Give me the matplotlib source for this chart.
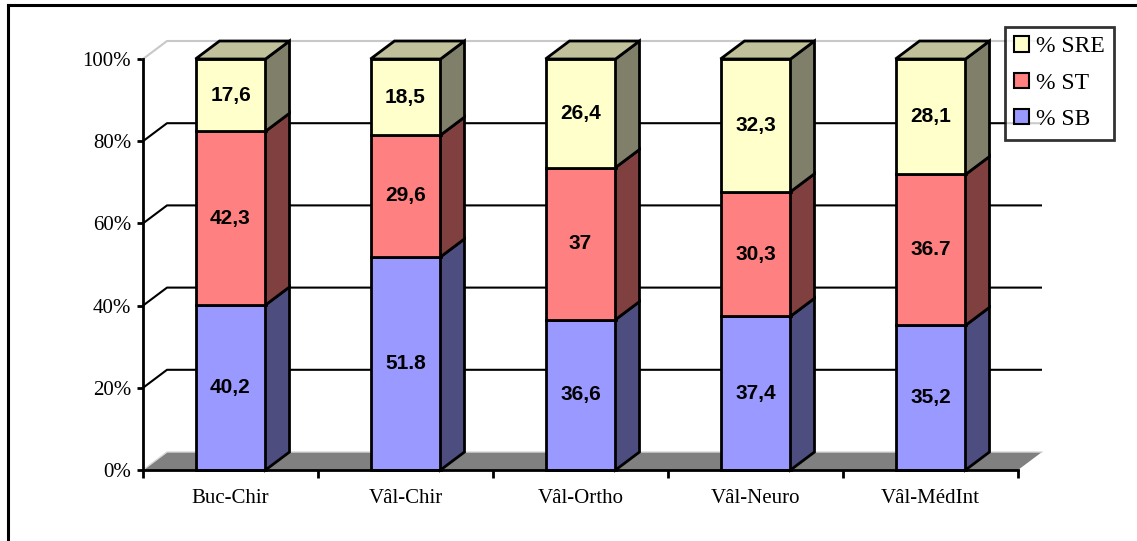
import numpy as np
import matplotlib
matplotlib.use("Agg")
import matplotlib.pyplot as plt
from matplotlib.patches import Polygon, Rectangle, Patch
from matplotlib.lines import Line2D

# data
categories = ["Buc-Chir", "Vâl-Chir", "Vâl-Ortho", "Vâl-Neuro", "Vâl-MédInt"]
sb = [40.2, 51.8, 36.6, 37.4, 35.2]
st = [42.3, 29.6, 37.0, 30.3, 36.7]
sre = [17.6, 18.5, 26.4, 32.3, 28.1]
sb_labels = ["40,2", "51.8", "36,6", "37,4", "35,2"]
st_labels = ["42,3", "29,6", "37", "30,3", "36.7"]
sre_labels = ["17,6", "18,5", "26,4", "32,3", "28,1"]
series_names = ["% SB", "% ST", "% SRE"]

W, H = 1137, 541
fig = plt.figure(figsize=(W / 100, H / 100), dpi=100)
ax = fig.add_axes([143 / W, (H - 470) / H, 875 / W, 411 / H])
ax.set_xlim(-0.5, len(categories) - 0.5)
ax.set_ylim(0, 100)

# 3d depth offsets in data units (24 px right, 18 px up)
ddx = 24 / 175
ddy = 18 / 4.11

front = ["#9999FF", "#FF8080", "#FFFFCC"]
side = ["#4D4D80", "#804040", "#80806A"]
top_col = "#C0C09A"

vals = np.array([sb, st, sre], dtype=float)
pct = vals / vals.sum(axis=0) * 100
texts = [sb_labels, st_labels, sre_labels]

x0, x1 = -0.5, len(categories) - 0.5

# floor
ax.add_patch(Polygon([(x0, 0), (x1, 0), (x1 + ddx, ddy), (x0 + ddx, ddy)],
                     closed=True, facecolor="#808080", edgecolor="none",
                     zorder=1, clip_on=False))
ax.plot([x0, x0 + ddx, x1 + ddx], [0, ddy, ddy], color="#D8D8D8", lw=1,
        zorder=1.5, clip_on=False)

# back wall grid
for v in [20, 40, 60, 80]:
    ax.plot([x0, x0 + ddx, x1 + ddx], [v, v + ddy, v + ddy], color="black",
            lw=1.5, zorder=2, clip_on=False, solid_capstyle="butt")
ax.plot([x0, x0 + ddx, x1 + ddx], [100, 100 + ddy, 100 + ddy], color="#C8C8C8",
        lw=1.5, zorder=2, clip_on=False)

# bars
w = 0.4
lw_bar = 2
for i in range(len(categories)):
    bottom = 0
    for s in range(3):
        h = pct[s, i]
        l, r = i - w / 2, i + w / 2
        ax.add_patch(Rectangle((l, bottom), w, h, facecolor=front[s],
                               edgecolor="black", lw=lw_bar, zorder=3,
                               clip_on=False))
        ax.add_patch(Polygon([(r, bottom), (r + ddx, bottom + ddy),
                              (r + ddx, bottom + h + ddy), (r, bottom + h)],
                             closed=True, facecolor=side[s], edgecolor="black",
                             lw=lw_bar, zorder=3, clip_on=False))
        ax.text(i, bottom + h / 2, texts[s][i], ha="center", va="center",
                fontsize=15, fontweight="bold", family="Liberation Sans",
                zorder=5)
        bottom += h
    l, r = i - w / 2, i + w / 2
    ax.add_patch(Polygon([(l, bottom), (r, bottom), (r + ddx, bottom + ddy),
                          (l + ddx, bottom + ddy)], closed=True,
                         facecolor=top_col, edgecolor="black", lw=lw_bar,
                         zorder=3, clip_on=False))

# axes styling
for sp in ["top", "right"]:
    ax.spines[sp].set_visible(False)
for sp in ["left", "bottom"]:
    ax.spines[sp].set_linewidth(2)
    ax.spines[sp].set_zorder(4)
ax.set_yticks([0, 20, 40, 60, 80, 100])
ax.set_yticklabels(["0%", "20%", "40%", "60%", "80%", "100%"],
                   family="Liberation Serif", fontsize=15)
ax.tick_params(axis="y", direction="out", length=4.5, width=2, pad=4)
ax.set_xticks(np.arange(-0.5, len(categories)))
ax.set_xticklabels([])
ax.set_xticks(np.arange(len(categories)), minor=True)
ax.set_xticklabels(categories, minor=True, family="Liberation Serif",
                   fontsize=15)
ax.tick_params(axis="x", which="major", direction="out", length=6, width=2)
ax.tick_params(axis="x", which="minor", length=0, pad=13.5)
ax.patch.set_visible(False)

# legend
handles = [Patch(facecolor=front[s], edgecolor="black", lw=1.5)
           for s in [2, 1, 0]]
labels = [series_names[s] for s in [2, 1, 0]]
leg = fig.legend(handles, labels, loc="upper left",
                 bbox_to_anchor=(1005 / W, 1 - 27 / H),
                 prop={"family": "Liberation Serif", "size": 17},
                 frameon=True, fancybox=False, borderaxespad=0,
                 borderpad=0.4, handlelength=0.62, handleheight=0.62,
                 handletextpad=0.3, labelspacing=0.65)
leg.get_frame().set_edgecolor("black")
leg.get_frame().set_linewidth(2)

# outer frame (left and top edges visible)
fig.add_artist(Line2D([8 / W, 8 / W], [0, 1 - 5 / H], color="black", lw=2.2))
fig.add_artist(Line2D([8 / W, 1], [1 - 5 / H, 1 - 5 / H], color="black", lw=2.2))

fig.savefig("out.png", dpi=100)
